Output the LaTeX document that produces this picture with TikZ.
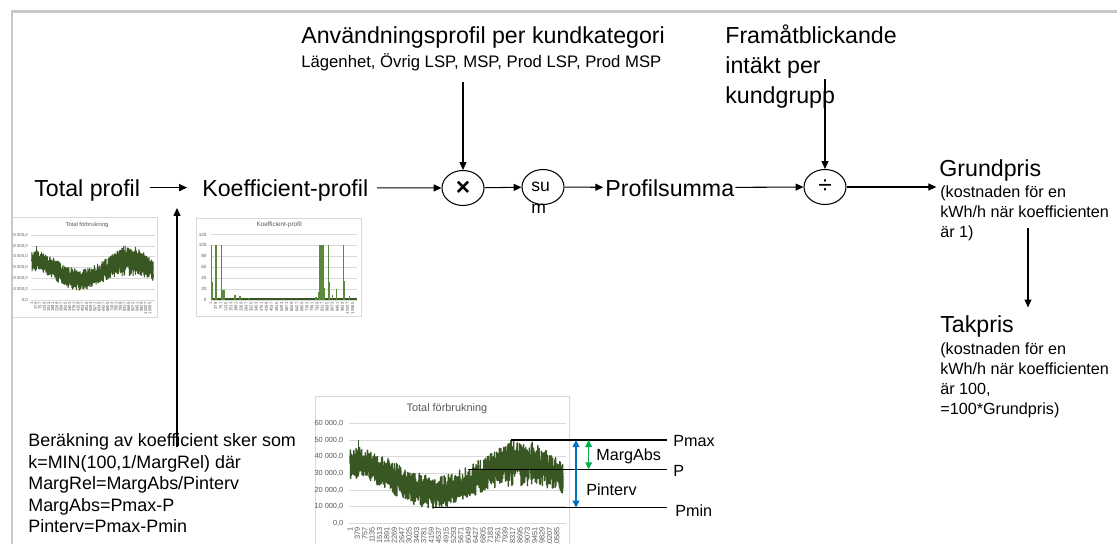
\documentclass[tikz,border=0pt]{standalone}
\usepackage{fontspec}
\setmainfont{Liberation Sans}
\usetikzlibrary{arrows.meta,shapes.geometric,positioning,calc}
\definecolor{framegray}{HTML}{C8C8C8}
\definecolor{gridgray}{HTML}{D9D9D9}
\definecolor{axisgray}{HTML}{595959}
\definecolor{seriesgreen}{HTML}{385723}
\definecolor{spikegreen}{HTML}{5B8A3C}
\definecolor{pblue}{HTML}{0070C0}
\definecolor{pgreen}{HTML}{00B050}
\begin{document}
\begin{tikzpicture}[
  x=0.02cm, y=-0.02cm,
  head/.style={inner sep=0pt, align=left, text depth=0pt, font=\fontsize{13.2}{17}\selectfont},
  note/.style={inner sep=0pt, align=left, font=\fontsize{9.2}{11.2}\selectfont},
  op/.style={ellipse, draw, line width=0.6pt, minimum width=0.84cm, minimum height=0.7cm, inner sep=0pt, font=\fontsize{14}{14}\selectfont},
  arr/.style={-{Triangle[length=4.5pt,width=4pt]}, line width=0.6pt},
  dbl/.style={{Triangle[length=4pt,width=3.8pt]}-{Triangle[length=4pt,width=3.8pt]}, line width=0.9pt},
  plevel/.style={line width=0.7pt},
  plbl/.style={inner sep=0pt, font=\fontsize{9.2}{11}\selectfont},
  chartframe/.style={draw=gridgray, line width=0.5pt, fill=white},
  gridln/.style={draw=gridgray, line width=0.3pt},
  ctitle/.style={text=axisgray, inner sep=0pt, font=\fontsize{6.2}{7}\selectfont},
  clab/.style={text=axisgray, inner sep=0pt, font=\fontsize{4.2}{5}\selectfont},
  serie/.style={draw=seriesgreen, line width=0.8pt, line join=round},
  spike/.style={draw=spikegreen, line width=0.8pt},
  forbr/.pic={
    \draw[chartframe] (-0.163,-76.2) rectangle (1.03,15.7);
    \node[ctitle] (title) at (0.455,-69) {Total förbrukning};
    \foreach \v/\yl in {0/{0,0},10/{10 000,0},20/{20 000,0},30/{30 000,0},40/{40 000,0},50/{50 000,0},60/{60 000,0}} {
      \draw[gridln] (-0.005,-\v) -- (1.015,-\v);
      \node[clab, anchor=east] (ylab\v) at (-0.03,-\v) {\yl};
    }
    \foreach \n [count=\c from 0] in {1,379,757,1135,1513,1891,2269,2647,3025,3403,3781,4159,4537,4915,5293,5671,6049,6427,6805,7183,7561,7939,8317,8695,9073,9451,9829,10207,10585}
      \node[clab, rotate=90, anchor=east] (xlab\c) at ({0.0347*\c},2) {\n};
    \pgfmathsetseed{11}
    \draw[serie] (0,-36) \foreach \i [evaluate={\i as \vv using 27.5+9*cos(0.75*\i)+(2*mod(\i,2)-1)*(10+4*max(0,1-((\i/600-0.8)/0.15)*((\i/600-0.8)/0.15)))*(0.25+0.75*rnd)}] in {1,...,600} { -- ({\i/600},-\vv) };
    \draw[serie] (0.04,-30) -- (0.04,-50) (0.755,-32) -- (0.755,-50) (0.39,-20) -- (0.39,-9.4);
  }
]
\useasboundingbox (0,0) rectangle (1117,544);

% charts
\pic[xscale=121.6, yscale=1.083, ctitle/.append style={font=\fontsize{3.3}{4}\selectfont},
  clab/.append style={font=\fontsize{2.4}{3}\selectfont}, serie/.append style={line width=0.55pt}] (smallchart) at (31.7,300) {forbr};
\begin{scope}[shift={(210.7,300)}, xscale=146, yscale=0.546]
  \draw[chartframe] (-0.096,-149.6) rectangle (1.034,30.6);
  \node[ctitle, font=\fontsize{3.6}{4}\selectfont] (koeftitle) at (0.469,-137) {Koefficient-profil};
  \foreach \v in {0,20,...,120} {
    \draw[gridln] (0,-\v) -- (1,-\v);
    \node[clab, font=\fontsize{2.6}{3}\selectfont, anchor=east] (kylab\v) at (-0.027,-\v) {\v};
  }
  \foreach \n [count=\c from 0] in {1,379,757,1135,1513,1891,2269,2647,3025,3403,3781,4159,4537,4915,5293,5671,6049,6427,6805,7183,7561,7939,8317,8695,9073,9451,9829,10207,10585}
    \node[clab, font=\fontsize{2.4}{3}\selectfont, rotate=90, anchor=east] (kxlab\c) at ({0.0347*\c},3.7) {\n};
  \draw[serie, line width=1pt] (0,-1.5) -- (1,-1.5);
  \foreach \t/\h in {0.007/100,0.014/33,0.031/100,0.040/100,0.075/100,0.085/18,0.095/18,0.166/10,0.2/8,0.26/3,0.5/2,0.72/5,0.737/15,0.745/100,0.755/100,0.768/100,0.78/22,0.806/100,0.812/33,0.836/10,0.863/20,0.908/100,0.914/35,0.952/8}
    \draw[spike] (\t,0) -- (\t,-\h);
\end{scope}
\pic[xscale=213, yscale=1.667] (bigchart) at (350,523.3) {forbr};

% main chain
\node[head, anchor=base west] (total) at (34,196) {Total profil};
\node[head, anchor=base west] (koef) at (202,196) {Koefficient-profil};
\node[op] (mult) at (463,188) {\bfseries ×};
\node[op] (sum) at (543,187) {};
\node[inner sep=0pt, align=left, font=\fontsize{10}{13}\selectfont, anchor=base west] (sumtxt) at (531,214) {su\\m};
\node[head, anchor=base west] (psum) at (605,196) {Profilsumma};
\node[op] (div) at (825,187) {÷};
\node[head, anchor=base west] (grund) at (939,176.5) {Grundpris};
\node[note, anchor=base west] (grundsub) at (940,237) {(kostnaden för en\\kWh/h när koefficienten\\är 1)};
\node[head, anchor=base west] (tak) at (940,333) {Takpris};
\node[note, anchor=base west] (taksub) at (940,414) {(kostnaden för en\\kWh/h när koefficienten\\är 100,\\=100*Grundpris)};

% inputs
\node[head, anchor=base west] (anv) at (301,43.7) {Användningsprofil per kundkategori};
\node[note, font=\fontsize{9.5}{11}\selectfont, anchor=base west] (anvsub) at (301,67.3) {Lägenhet, Övrig LSP, MSP, Prod LSP, Prod MSP};
\node[head, anchor=base west] (fram) at (725,103.5) {Framåtblickande\\intäkt per\\kundgrupp};
\node[note, font=\fontsize{10.2}{12.2}\selectfont, anchor=base west] (berakn) at (28,532.7) {Beräkning av koefficient sker som\\k=MIN(100,1/MargRel) där\\MargRel=MargAbs/Pinterv\\MargAbs=Pmax-P\\Pinterv=Pmax-Pmin};

\coordinate (kin) at (177,208);
\coordinate (gdrop) at (1028,0);
\coordinate (framdrop) at ($(fram.center)+(0,15)$);

\draw[arr, shorten <=5.3pt, shorten >=8.5pt] (total) -- (koef);
\draw[arr, shorten <=4.8pt] (koef) -- (mult);
\draw[arr] (mult) -- (sum);
\draw[arr, shorten >=1pt] (sum) -- (psum);
\draw[arr, shorten <=0.5pt] (psum) -- (div);
\draw[arr, shorten >=1.5pt] (div) -- (div -| grund.west);
\draw[arr, shorten <=6.3pt] (anvsub.south -| mult) -- (mult);
\draw[arr] (div |- framdrop) -- (div);
\draw[arr, shorten <=-7pt, shorten >=4.8pt] (grundsub.south -| gdrop) -- (tak.north -| gdrop);
\draw[arr, shorten <=-7.5pt] (berakn.north -| kin) -- (kin);

% levels on the big chart
\coordinate (pmaxpt) at (510.7,440);
\coordinate (ppt) at (468,469.3);
\coordinate (pminpt) at (433,507.7);
\node[plbl, anchor=base west] (pmax) at (673,446) {Pmax};
\node[plbl, anchor=base west] (pval) at (673,476) {P};
\node[plbl, anchor=base west] (pmin) at (675,516) {Pmin};
\node[plbl, anchor=base west] (margabs) at (596,460) {MargAbs};
\node[plbl, anchor=base west] (pinterv) at (586,495) {Pinterv};
\draw[plevel, shorten >=3.5pt] (pmaxpt) -- (pmaxpt -| pmax.west);
\draw[plevel, shorten >=3.5pt] (ppt) -- (ppt -| pval.west);
\draw[plevel, shorten >=4.5pt] (pminpt) -- (pminpt -| pmin.west);
\coordinate (blx) at (576,0);
\coordinate (grx) at (588.7,0);
\draw[dbl, pblue] (blx |- pmaxpt) -- (blx |- pminpt);
\draw[dbl, pgreen] (grx |- pmaxpt) -- (grx |- ppt);

% frame
\draw[framegray, line width=1.2pt] (12,544) -- (12,11.5) -- (1117,11.5);
\end{tikzpicture}
\end{document}
